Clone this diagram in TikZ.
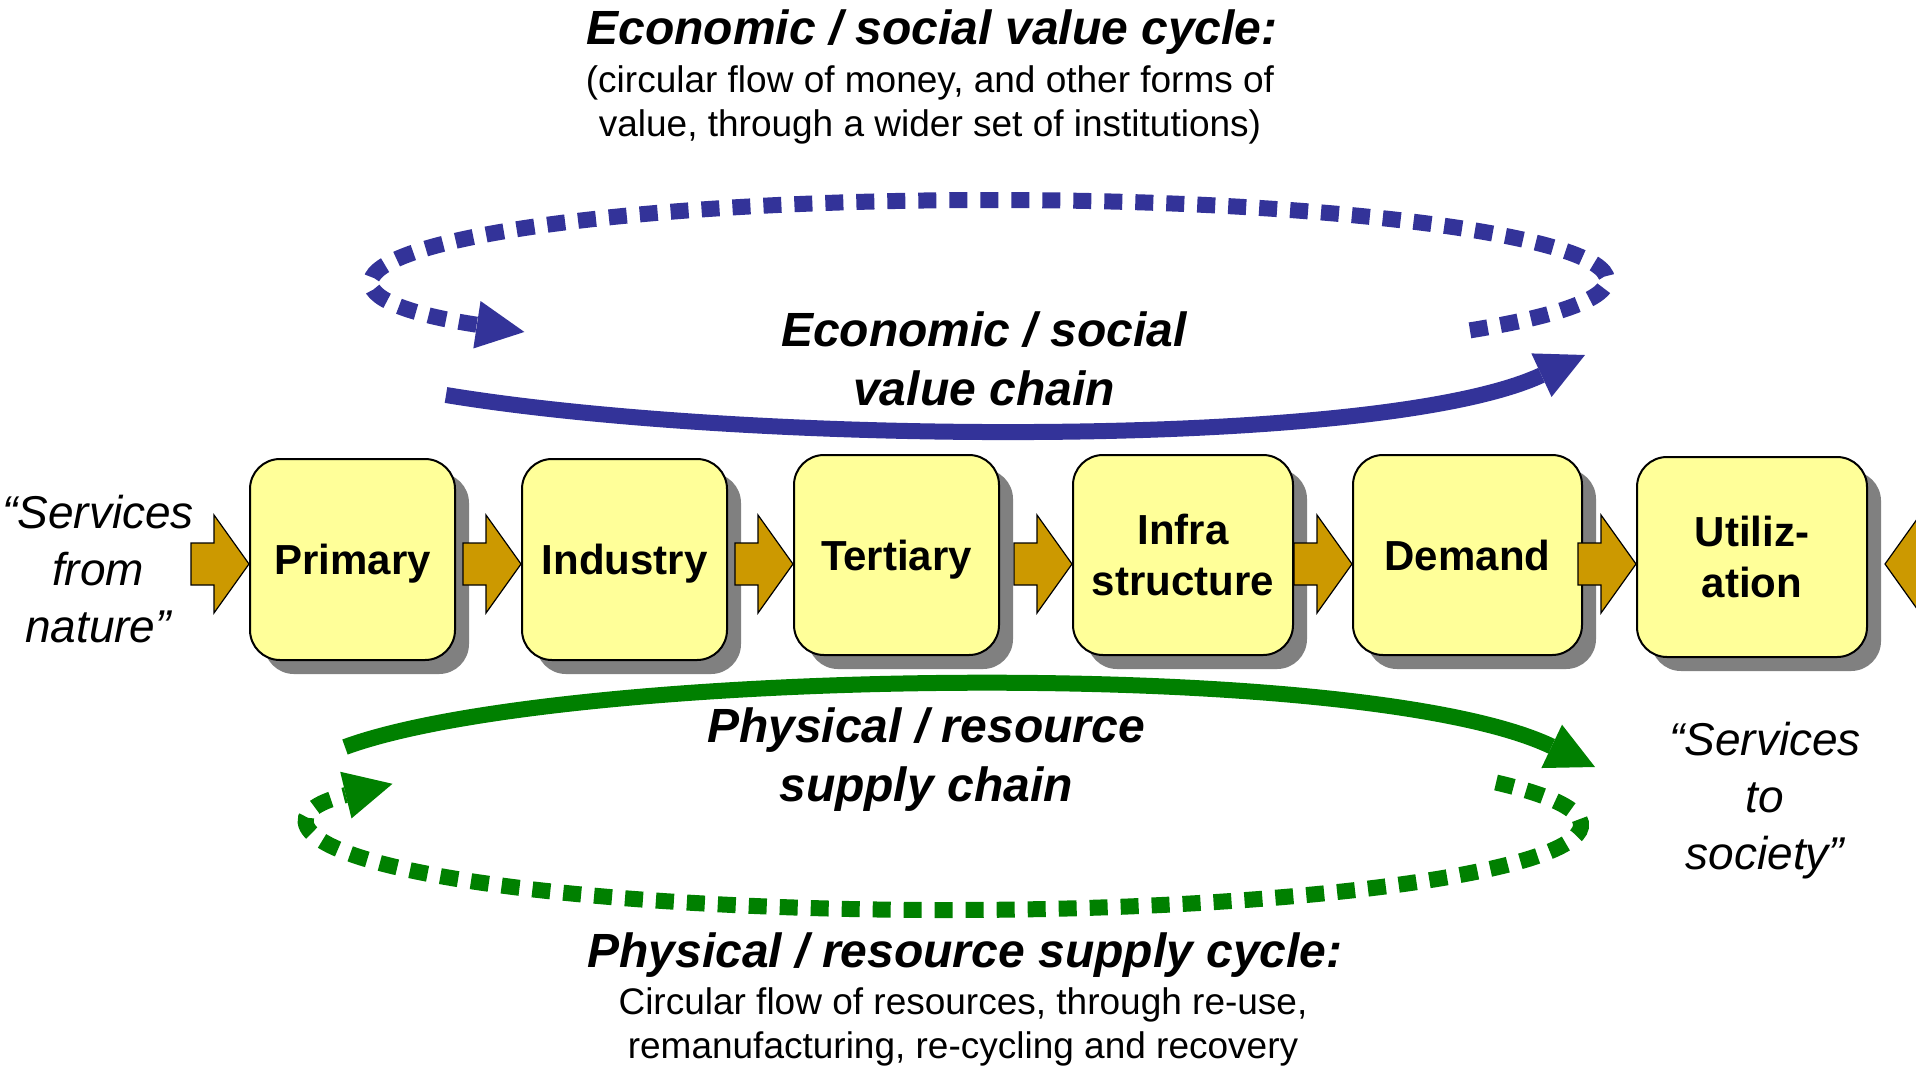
\documentclass[tikz,border=0pt]{standalone}
\usepackage{fontspec}
\setmainfont{Liberation Sans}
\usetikzlibrary{arrows.meta,shadows,calc}
\definecolor{cblue}{HTML}{333399}
\definecolor{cgreen}{HTML}{008000}
\definecolor{cgold}{HTML}{CC9900}
\definecolor{cbox}{HTML}{FFFF99}
\definecolor{cshadow}{HTML}{808080}
\begin{document}
\begin{tikzpicture}[x=0.5pt,y=-0.5pt,
  stage/.style={draw=black,line width=1pt,fill=cbox,rounded corners=15pt,inner sep=0pt,align=center,
    text depth=0pt,
    font=\fontsize{21}{25.5}\selectfont\bfseries,
    drop shadow={shadow xshift=7pt,shadow yshift=-7pt,fill=cshadow,opacity=1}},
  ttl/.style={font=\fontsize{24}{29.5}\selectfont\bfseries\itshape,align=center,inner sep=0pt},
  subt/.style={font=\fontsize{18.5}{22.25}\selectfont,align=center,inner sep=0pt},
  qtext/.style={font=\fontsize{23}{28.5}\selectfont\itshape,align=center,inner sep=0pt},
  flow/.style={line width=8pt},
  dotflow/.style={line width=8pt,dash pattern=on 9pt off 6.5pt},
  tipA/.style={-{Triangle[length=24pt,width=24pt,line width=0pt]}},
  goldarrow/.pic={\path[draw=black,line width=0.6pt,fill=cgold,line join=miter]
      (0,0) -- (-35,-49) -- (-35,-21) -- (-58,-21) -- (-58,21) -- (-35,21) -- (-35,49) -- cycle;}
]
\clip (0,0) rectangle (1916,1072);
\useasboundingbox (0,0) rectangle (1916,1072);
\fill[white] (0,0) rectangle (1916,1072);

% stage boxes
\node[stage,minimum width=102.5pt,minimum height=100.5pt] (primary) at (352.5,559.5) {Primary};
\node[stage,minimum width=102.5pt,minimum height=100.5pt] (industry) at (624.5,559.5) {Industry};
\node[stage,minimum width=102.5pt,minimum height=100pt] (tertiary) at (896.5,555) {Tertiary};
\node[stage,minimum width=110pt,minimum height=100pt] (infra) at (1183,555) {Infra\\structure};
\node[stage,minimum width=114.5pt,minimum height=100pt] (demand) at (1467.5,555) {Demand};
\node[stage,minimum width=115pt,minimum height=100pt] (util) at (1752,557) {Utiliz-\\ation};

% gold block arrows
\coordinate (row) at (0,564);
\pic at (primary.west |- row) {goldarrow};
\pic at (industry.west |- row) {goldarrow};
\pic at (tertiary.west |- row) {goldarrow};
\pic at (infra.west |- row) {goldarrow};
\pic at (demand.west |- row) {goldarrow};
\pic at (util.west |- row) {goldarrow};
\pic[rotate=180] at ($(util.east |- row)+(17,0)$) {goldarrow};

% texts
\node[ttl] (ecotitle) at (932,32) {Economic / social value cycle:};
\node[subt] (ecosub) at (930,105) {(circular flow of money, and other forms of\\value, through a wider set of institutions)};
\node[ttl] (ecochain) at (984,359) {Economic / social\\value chain};
\node[ttl] (phychain) at (926,760) {Physical / resource\\supply chain};
\node[ttl] (phytitle) at (965,955) {Physical / resource supply cycle:};
\node[subt] (physub) at (963,1027) {Circular flow of resources, through re-use,\\remanufacturing, re-cycling and recovery};
\node[qtext] (nature) at (98,569) {“Services\\from\\nature”};
\node[qtext] (society) at (1765,801) {“Services\\to\\society”};

% economic chain and cycle
\coordinate (ecoA) at (446,395);
\coordinate (ecoB) at (1585,355);
\draw[flow,cblue,tipA] (ecoA) .. controls (750,445) and (1380,450) .. (ecoB);
\coordinate (ecoC) at (992,280);
\draw[dotflow,cblue,tipA] ($(ecoC)+(39:615 and 80)$) arc[start angle=39,end angle=-220.5,x radius=615,y radius=80];

% physical chain and cycle
\coordinate (phyA) at (345,747);
\coordinate (phyB) at (1595,767);
\draw[flow,cgreen,tipA] (phyA) .. controls (560,668) and (1360,655) .. (phyB);
\coordinate (phyC) at (947,825);
\draw[dotflow,cgreen,tipA] ($(phyC)+(-30:634 and 85)$) arc[start angle=-30,end angle=209,x radius=634,y radius=85];
\end{tikzpicture}
\end{document}
